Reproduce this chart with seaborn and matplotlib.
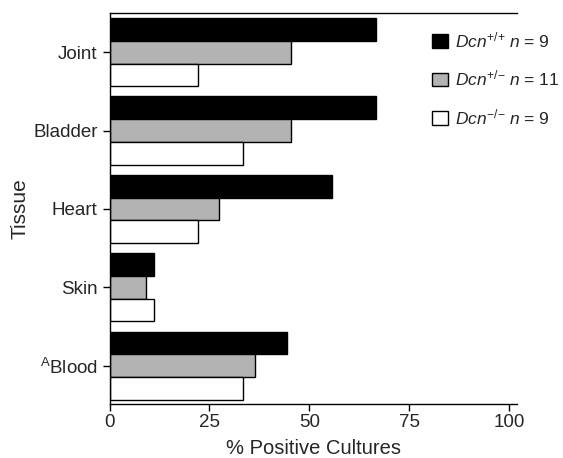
import matplotlib
matplotlib.use("Agg")
import matplotlib.pyplot as plt
import seaborn as sns
import pandas as pd

# ---- data ----
tissues = ["Joint", "Bladder", "Heart", "Skin", "$^{\\mathrm{A}}$Blood"]
genotypes = [
    "$\\mathit{Dcn}^{{+}/{+}}$ $\\mathit{n}$ = 9",
    "$\\mathit{Dcn}^{{+}/{-}}$ $\\mathit{n}$ = 11",
    "$\\mathit{Dcn}^{{-}/{-}}$ $\\mathit{n}$ = 9",
]
wt = [66.7, 66.7, 55.6, 11.1, 44.4]
het = [45.5, 45.5, 27.3, 9.1, 36.4]
ko = [22.2, 33.3, 22.2, 11.1, 33.3]
colors = ["#000000", "#b3b3b3", "#ffffff"]

rows = []
for g, vals in zip(genotypes, [wt, het, ko]):
    for t, v in zip(tissues, vals):
        rows.append({"Tissue": t, "Genotype": g, "Value": v})
df = pd.DataFrame(rows)

sns.set_style("ticks")
plt.rcParams["font.family"] = ["Liberation Sans", "DejaVu Sans"]
plt.rcParams["mathtext.fontset"] = "custom"
plt.rcParams["mathtext.rm"] = "Liberation Sans"
plt.rcParams["mathtext.it"] = "Liberation Sans:italic"
plt.rcParams["mathtext.bf"] = "Liberation Sans:bold"

fig = plt.figure(figsize=(5.63, 4.58), dpi=100)
ax = fig.add_axes([109.5 / 563, 1 - 404 / 458, (517 - 109.5) / 563, (404 - 13) / 458])

sns.barplot(data=df, y="Tissue", x="Value", hue="Genotype", order=tissues,
            hue_order=genotypes, palette=colors, orient="h", width=0.87,
            saturation=1, edgecolor="black", linewidth=1.0, errorbar=None, ax=ax)

ax.set_xlim(0, 101.9)
ax.set_ylim(4.49, -0.50)
ax.set_xticks([0, 25, 50, 75, 100])
ax.set_xlabel("% Positive Cultures", fontsize=14.5, labelpad=6)
ax.set_ylabel("Tissue", fontsize=15, labelpad=2.5)
ax.tick_params(axis="both", labelsize=13.5, length=5, width=1.0, color="black")
ax.tick_params(axis="x", pad=2)
for side in ["left", "bottom", "top"]:
    ax.spines[side].set_linewidth(1.0)
    ax.spines[side].set_color("black")
ax.spines["right"].set_visible(False)

handles, labels = ax.get_legend_handles_labels()
ax.legend(handles, labels, loc="upper left",
          bbox_to_anchor=(432 / 563, 1 - 30 / 458), bbox_transform=fig.transFigure,
          frameon=False, borderpad=0, borderaxespad=0, handlelength=0.92,
          handleheight=0.85, handletextpad=0.4, labelspacing=1.08, fontsize=12.5)

fig.savefig("out.png", dpi=100)
